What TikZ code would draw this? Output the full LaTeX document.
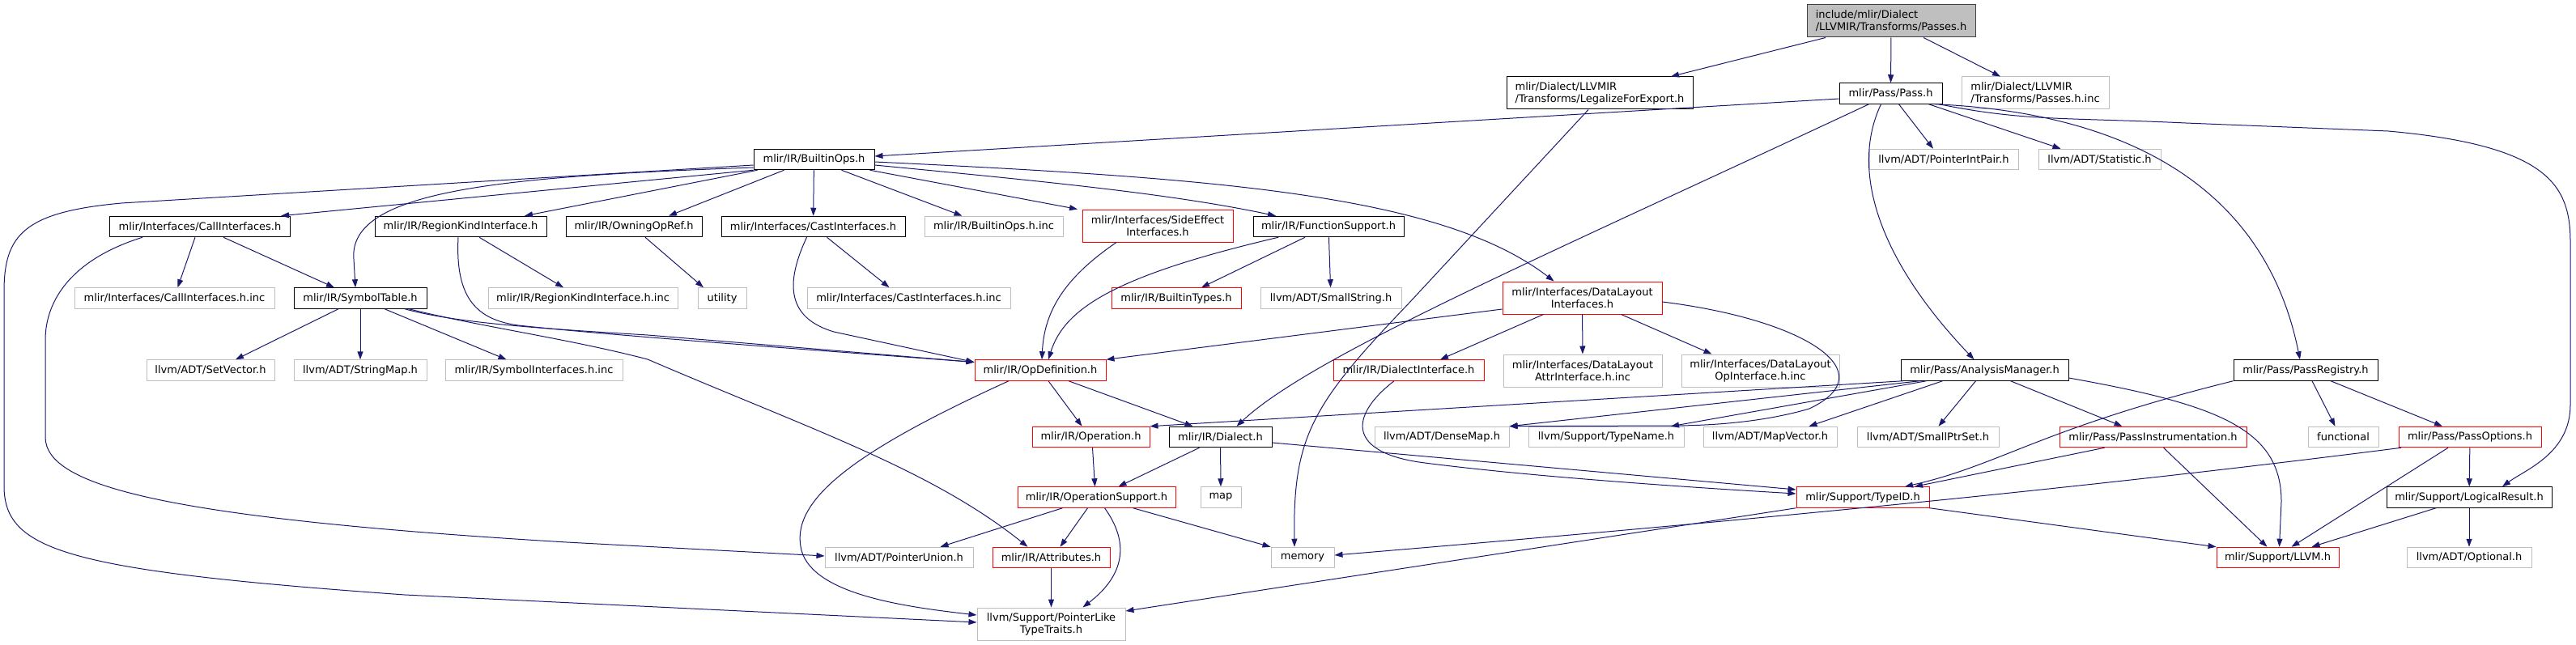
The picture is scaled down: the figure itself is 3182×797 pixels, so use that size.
\documentclass[tikz,border=0pt]{standalone}
\usepackage{fontspec}
\setmainfont{DejaVu Sans}
\usepackage{xcolor}
\usetikzlibrary{arrows.meta}
\definecolor{edgeblue}{HTML}{191970}
\definecolor{grey75}{HTML}{BFBFBF}
\definecolor{rootline}{HTML}{404040}

\begin{document}
\begin{tikzpicture}[x=1pt,y=-1pt,
  font=\fontsize{13}{15}\selectfont,
  file/.style={draw,rectangle,line width=1pt,fill=white,inner sep=2pt,minimum height=25.5pt},
  docfile/.style={file,draw=black},
  extfile/.style={file,draw=grey75},
  redfile/.style={file,draw=red},
  twoline/.style={minimum height=40pt},
  dep/.style={draw=edgeblue,line width=1pt,-{Triangle[length=10pt,width=7pt]}}]
  \useasboundingbox (0,0) rectangle (3182,797);

  \node[docfile,twoline,fill=grey75,draw=rootline,minimum width=208,align=left] (root) at (2336,26) {include/mlir/Dialect\\/LLVMIR/Transforms/Passes.h};
  \node[docfile,twoline,minimum width=230,align=left] (legal) at (1976,115) {mlir/Dialect/LLVMIR\\/Transforms/LegalizeForExport.h};
  \node[docfile,minimum width=127] (pass) at (2335.5,115.5) {mlir/Pass/Pass.h};
  \node[extfile,twoline,minimum width=182,align=left] (passesinc) at (2514,115) {mlir/Dialect/LLVMIR\\/Transforms/Passes.h.inc};
  \node[docfile,minimum width=149] (builtinops) at (1005.5,197) {mlir/IR/BuiltinOps.h};
  \node[extfile,minimum width=184] (ptrintpair) at (2401,197) {llvm/ADT/PointerIntPair.h};
  \node[extfile,minimum width=151] (statistic) at (2593.5,197) {llvm/ADT/Statistic.h};
  \node[docfile,minimum width=223] (callif) at (247,280) {mlir/Interfaces/CallInterfaces.h};
  \node[docfile,minimum width=212] (regionkind) at (569,280) {mlir/IR/RegionKindInterface.h};
  \node[docfile,minimum width=168] (owningop) at (783,280) {mlir/IR/OwningOpRef.h};
  \node[docfile,minimum width=227] (castif) at (1004.5,280) {mlir/Interfaces/CastInterfaces.h};
  \node[extfile,minimum width=171] (builtinopsinc) at (1227.5,280) {mlir/IR/BuiltinOps.h.inc};
  \node[redfile,twoline,minimum width=186,align=center] (sideeffect) at (1430,279) {mlir/Interfaces/SideEffect\\Interfaces.h};
  \node[docfile,minimum width=186] (funcsupport) at (1641,280) {mlir/IR/FunctionSupport.h};
  \node[extfile,minimum width=247] (callifinc) at (215.5,368.5) {mlir/Interfaces/CallInterfaces.h.inc};
  \node[docfile,minimum width=164] (symtable) at (445,368.5) {mlir/IR/SymbolTable.h};
  \node[extfile,minimum width=234] (regionkindinc) at (720,368.5) {mlir/IR/RegionKindInterface.h.inc};
  \node[extfile,minimum width=60] (utility) at (892,368.5) {utility};
  \node[extfile,minimum width=251] (castifinc) at (1122.5,368.5) {mlir/Interfaces/CastInterfaces.h.inc};
  \node[redfile,minimum width=160] (builtintypes) at (1453,368.5) {mlir/IR/BuiltinTypes.h};
  \node[extfile,minimum width=174] (smallstring) at (1644,368.5) {llvm/ADT/SmallString.h};
  \node[redfile,twoline,minimum width=197,align=center] (datalayout) at (1954.5,368) {mlir/Interfaces/DataLayout\\Interfaces.h};
  \node[extfile,minimum width=158] (setvector) at (260,457.5) {llvm/ADT/SetVector.h};
  \node[extfile,minimum width=164] (stringmap) at (445,457.5) {llvm/ADT/StringMap.h};
  \node[extfile,minimum width=219] (symifinc) at (659.5,457.5) {mlir/IR/SymbolInterfaces.h.inc};
  \node[redfile,minimum width=162] (opdef) at (1285,457.5) {mlir/IR/OpDefinition.h};
  \node[redfile,minimum width=186] (dialectif) at (1740,457.5) {mlir/IR/DialectInterface.h};
  \node[extfile,twoline,minimum width=196,align=center] (dlattrinc) at (1955,458) {mlir/Interfaces/DataLayout\\AttrInterface.h.inc};
  \node[extfile,twoline,minimum width=195,align=center] (dlopinc) at (2174.5,458) {mlir/Interfaces/DataLayout\\OpInterface.h.inc};
  \node[docfile,minimum width=207] (analysis) at (2451.5,457.5) {mlir/Pass/AnalysisManager.h};
  \node[docfile,minimum width=178] (passreg) at (2848,457.5) {mlir/Pass/PassRegistry.h};
  \node[redfile,minimum width=145] (operation) at (1347.5,540) {mlir/IR/Operation.h};
  \node[docfile,minimum width=127] (dialect) at (1507.5,540) {mlir/IR/Dialect.h};
  \node[extfile,minimum width=166] (densemap) at (1781,540) {llvm/ADT/DenseMap.h};
  \node[extfile,minimum width=192] (typename) at (1984,540) {llvm/Support/TypeName.h};
  \node[extfile,minimum width=165] (mapvector) at (2186.5,540) {llvm/ADT/MapVector.h};
  \node[extfile,minimum width=175] (smallptrset) at (2381.5,540) {llvm/ADT/SmallPtrSet.h};
  \node[redfile,minimum width=231] (passinstr) at (2659.5,540) {mlir/Pass/PassInstrumentation.h};
  \node[extfile,minimum width=87] (functional) at (2894.5,540) {functional};
  \node[redfile,minimum width=176] (passopts) at (3051,540) {mlir/Pass/PassOptions.h};
  \node[redfile,minimum width=195] (opsupport) at (1354.5,614.5) {mlir/IR/OperationSupport.h};
  \node[extfile,minimum width=50] (map) at (1508,614.5) {map};
  \node[redfile,minimum width=164] (typeid) at (2301,614.5) {mlir/Support/TypeID.h};
  \node[docfile,minimum width=204] (logical) at (3050,614.5) {mlir/Support/LogicalResult.h};
  \node[extfile,minimum width=183] (ptrunion) at (1110.5,689) {llvm/ADT/PointerUnion.h};
  \node[redfile,minimum width=145] (attributes) at (1298.5,689) {mlir/IR/Attributes.h};
  \node[extfile,minimum width=78] (memory) at (1609,689) {memory};
  \node[redfile,minimum width=151] (llvmh) at (2813.5,689) {mlir/Support/LLVM.h};
  \node[extfile,minimum width=154] (optional) at (3050,689) {llvm/ADT/Optional.h};
  \node[extfile,twoline,minimum width=183,align=center] (ptrlike) at (1298.5,771) {llvm/Support/PointerLike\\TypeTraits.h};

  \foreach \a/\b in {root/pass,builtinops/castif,symtable/stringmap,funcsupport/smallstring,
      datalayout/dlattrinc,dialect/map,passopts/logical,logical/optional,attributes/ptrlike} {
    \draw[dep] (\a) -- (\b);
  }

  \draw[dep] ([xshift=-81pt]root.south) -- ([xshift=88pt]legal.north);
  \draw[dep] ([xshift=40pt]root.south) -- ([xshift=-43pt]passesinc.north);
  \draw[dep] ([xshift=-14pt]legal.south) -- (1740,375) .. controls (1620,500) and (1597,540) .. ([xshift=-10pt]memory.north);
  \draw[dep] ([yshift=-6.5pt]pass.west) -- ([yshift=4pt]builtinops.east);
  \draw[dep] ([xshift=-27pt]pass.south) .. controls (1900,320) and (1620,440) .. ([xshift=20pt]dialect.north);
  \draw[dep] ([xshift=-12pt]pass.south) .. controls (2285,210) and (2320,320) .. ([xshift=-13pt]analysis.north);
  \draw[dep] ([xshift=10pt]pass.south) -- ([xshift=-13pt]ptrintpair.north);
  \draw[dep] ([xshift=47pt]pass.south) -- ([xshift=-48pt]statistic.north);
  \draw[dep] ([xshift=55pt]pass.south) .. controls (2640,140) and (2800,240) .. ([xshift=-7pt]passreg.north);
  \draw[dep] ([xshift=60pt]pass.south) .. controls (2500,150) and (2550,145) .. (2700,152) -- (2950,162)
    .. controls (3150,180) and (3175,230) .. (3175,300) -- (3175,500) .. controls (3175,560) and (3120,580) .. ([xshift=41pt]logical.north);

  \draw[dep] ([yshift=-7pt]builtinops.west) -- (150,251) .. controls (30,262) and (5,290) .. (5,360) -- (5,600)
    .. controls (5,680) and (80,705) .. (500,735) -- ([yshift=2pt]ptrlike.west);
  \draw[dep] ([yshift=-10pt]builtinops.west) .. controls (620,218) and (430,235) .. (437,320) -- ([xshift=-6pt]symtable.north);
  \draw[dep] (builtinops.south west) -- ([xshift=100pt]callif.north);
  \draw[dep] ([xshift=5pt]builtinops.south west) -- ([xshift=79pt]regionkind.north);
  \draw[dep] ([xshift=-37pt]builtinops.south) -- ([xshift=43pt]owningop.north);
  \draw[dep] ([xshift=34pt]builtinops.south) -- ([xshift=-39pt]builtinopsinc.north);
  \draw[dep] ([xshift=-6pt]builtinops.south east) -- ([xshift=-99pt]sideeffect.north);
  \draw[dep] ([yshift=-7pt]builtinops.east) .. controls (1300,225) and (1450,240) .. ([xshift=-65pt]funcsupport.north);
  \draw[dep] ([yshift=-3pt]builtinops.east) .. controls (1500,220) and (1780,240) .. ([xshift=-35pt]datalayout.north);

  \draw[dep] ([xshift=-6pt]callif.south) -- ([xshift=4pt]callifinc.north);
  \draw[dep] ([xshift=29pt]callif.south) -- ([xshift=-32pt]symtable.north);
  \draw[dep] ([xshift=-71pt]callif.south) .. controls (90,320) and (56,370) .. (56,420) -- (56,540)
    .. controls (56,600) and (200,640) .. (700,670) -- ([yshift=2pt]ptrunion.west);
  \draw[dep] ([xshift=23pt]regionkind.south) -- ([xshift=-24pt]regionkindinc.north);
  \draw[dep] ([xshift=-3pt]regionkind.south) .. controls (562,370) and (590,395) .. (640,402)
    .. controls (760,415) and (1000,432) .. ([yshift=10pt]opdef.west);
  \draw[dep] ([xshift=55pt]symtable.south) .. controls (560,398) and (650,405) .. (800,414) -- ([yshift=10pt]opdef.west);
  \draw[dep] ([xshift=60pt]symtable.south) .. controls (600,405) and (700,418) .. (800,444)
    .. controls (1000,530) and (1150,580) .. ([xshift=-29pt]attributes.north);
  \draw[dep] ([xshift=-27pt]symtable.south) -- ([xshift=31pt]setvector.north);
  \draw[dep] ([xshift=30pt]symtable.south) -- ([xshift=-34pt]symifinc.north);
  \draw[dep] ([xshift=14pt]owningop.south) -- ([xshift=-23pt]utility.north);
  \draw[dep] ([xshift=17pt]castif.south) -- ([xshift=-24pt]castifinc.north);
  \draw[dep] ([xshift=-8pt]castif.south) .. controls (965,360) and (980,395) .. (1030,410) -- ([yshift=10pt]opdef.west);
  \draw[dep] ([xshift=-51pt]sideeffect.south) .. controls (1320,340) and (1290,380) .. ([xshift=2pt]opdef.north);
  \draw[dep] ([xshift=-62pt]funcsupport.south) .. controls (1380,340) and (1315,380) .. ([xshift=10pt]opdef.north);
  \draw[dep] ([xshift=-29pt]funcsupport.south) -- ([xshift=31pt]builtintypes.north);

  \draw[dep] ([yshift=-14pt]datalayout.west) -- (opdef.north east);
  \draw[dep] ([xshift=-48pt]datalayout.south) -- ([xshift=39pt]dialectif.north);
  \draw[dep] ([xshift=48pt]datalayout.south) -- ([xshift=-60pt]dlopinc.north);
  \draw[dep] ([yshift=-5pt]datalayout.east) .. controls (2230,395) and (2330,460) .. (2235,505)
    .. controls (2170,524) and (2100,526) .. (2064,526) -- (densemap.north east);
  \draw[dep] ([xshift=-18pt]dialectif.south) .. controls (1665,515) and (1665,560) .. (1760,572)
    .. controls (1900,590) and (2100,603) .. ([yshift=4.5pt]typeid.west);
  \draw[dep] ([yshift=-7pt]dialect.east) -- ([yshift=9.5pt]typeid.west);
  \draw[dep] ([xshift=-26pt]dialect.south) -- ([xshift=27pt]opsupport.north);
  \draw[dep] ([xshift=2pt]operation.south) -- ([xshift=-2pt]opsupport.north);
  \draw[dep] ([xshift=10pt]opdef.south) -- ([xshift=-11pt]operation.north);
  \draw[dep] ([xshift=35pt]opdef.south) -- ([xshift=-34pt]dialect.north);
  \draw[dep] ([xshift=-39pt]opdef.south) .. controls (1050,560) and (975,620) .. (990,680)
    .. controls (1005,735) and (1120,750) .. ([yshift=11pt]ptrlike.west);
  \draw[dep] ([xshift=-42pt]opsupport.south) -- ([xshift=51pt]ptrunion.north);
  \draw[dep] ([xshift=-11pt]opsupport.south) -- ([xshift=11pt]attributes.north);
  \draw[dep] ([xshift=10pt]opsupport.south) .. controls (1395,670) and (1390,710) .. ([xshift=39pt]ptrlike.north);
  \draw[dep] ([xshift=45pt]opsupport.south) -- (memory.north west);
  \draw[dep] (typeid.south west) -- ([yshift=16pt]ptrlike.east);
  \draw[dep] (typeid.south east) -- (llvmh.north west);

  \draw[dep] ([xshift=-85pt]passopts.south) .. controls (2600,600) and (2200,640) .. ([yshift=3pt]memory.east);
  \draw[dep] ([xshift=-27pt]passopts.south) -- ([xshift=17pt]llvmh.north);
  \draw[dep] ([xshift=-41pt]logical.south) -- ([xshift=42pt]llvmh.north);
  \draw[dep] (passreg.south west) .. controls (2520,530) and (2470,575) .. ([xshift=52pt]typeid.north);
  \draw[dep] ([xshift=8pt]passreg.south) -- ([xshift=-10pt]functional.north);
  \draw[dep] ([xshift=31pt]passreg.south) -- ([xshift=-34pt]passopts.north);
  \draw[dep] ([xshift=-60pt]passinstr.south) -- ([xshift=64pt]typeid.north);
  \draw[dep] ([xshift=13pt]passinstr.south) -- ([xshift=-13pt]llvmh.north);
  \draw[dep] ([xshift=-101pt]analysis.south) -- (operation.north east);
  \draw[dep] ([xshift=-80pt]analysis.south) -- (densemap.north east);
  \draw[dep] ([xshift=-72pt]analysis.south) -- ([xshift=80pt]typename.north);
  \draw[dep] ([xshift=-52pt]analysis.south) -- ([xshift=48pt]mapvector.north);
  \draw[dep] ([xshift=-11pt]analysis.south) -- ([xshift=13pt]smallptrset.north);
  \draw[dep] ([xshift=32pt]analysis.south) -- ([xshift=-38pt]passinstr.north);
  \draw[dep] ([yshift=-9.5pt]analysis.east) .. controls (2740,500) and (2818,530) .. (2818,620) -- ([xshift=2pt]llvmh.north);
\end{tikzpicture}
\end{document}
